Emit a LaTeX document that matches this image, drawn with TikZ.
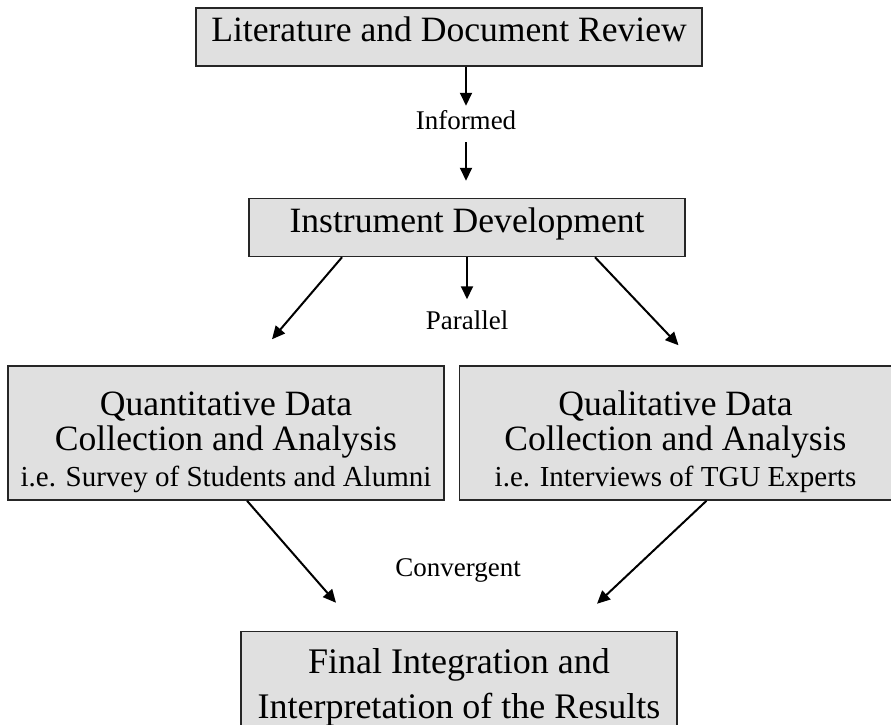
\documentclass[tikz,border=0pt]{standalone}
\usepackage{fontspec}
\setmainfont{Liberation Serif}
\usetikzlibrary{arrows.meta,positioning}

\begin{document}
\begin{tikzpicture}[
  x=1pt, y=-1pt,
  box/.style={draw=black!85, line width=1.5pt, fill=gray!24,
              inner sep=0pt, font=\fontsize{35.6pt}{40pt}\selectfont},
  onebox/.style={box, text height=25pt, text depth=15pt, minimum height=58pt},
  twobox/.style={box, align=center, minimum height=134pt},
  lbl/.style={inner sep=0pt, font=\fontsize{27pt}{32pt}\selectfont},
  arr/.style={-{Triangle[length=13pt,width=12pt]}, line width=2pt}
]
\useasboundingbox (0,0) rectangle (891,725);

\node[onebox, minimum width=506pt] (lit) at (449,37) {Literature and Document Review};
\node[onebox, minimum width=436pt, below=131pt of lit, xshift=18pt] (dev) {Instrument Development};
\node[twobox, minimum width=436pt, below=108pt of dev, xshift=-241pt] (quan)
  {\rule{0pt}{42pt}Quantitative Data\\[-5pt]Collection and Analysis\\[-4pt]
   {\fontsize{29pt}{34pt}\selectfont i.e. Survey of Students and Alumni}};
\node[twobox, minimum width=432pt, right=14pt of quan] (qual)
  {\rule{0pt}{42pt}Qualitative Data\\[-5pt]Collection and Analysis\\[-4pt]
   {\fontsize{29pt}{34pt}\selectfont i.e. Interviews of TGU Experts}};
\node[box, align=center, minimum width=436pt, inner ysep=17pt, below=130pt of quan,
      xshift=233pt, font=\fontsize{36pt}{45pt}\selectfont] (final)
  {Final Integration and\\Interpretation of the Results};

% link labels
\node[lbl, below=43.6pt of lit, xshift=17pt] (inf) {Informed};
\node[lbl, below=53.6pt of dev] (par) {Parallel};
\node[lbl, above=48pt of final, xshift=-1pt] (conv) {Convergent};

\draw[arr, shorten >=4.6pt] (lit.south -| inf) -- (inf.north);
\draw[arr, shorten <=12pt, shorten >=17pt] (inf.south) -- (dev.north -| inf);
\draw[arr, shorten >=11.6pt] (dev.south) -- (par.north);
\draw[arr] ([xshift=-125pt]dev.south) -- ([xshift=46pt,yshift=26pt]quan.north);
\draw[arr] ([xshift=128pt]dev.south) -- ([xshift=3pt,yshift=20pt]qual.north);
\draw[arr] ([xshift=21pt]quan.south) -- ([xshift=-123pt,yshift=28pt]final.north);
\draw[arr] ([xshift=31pt]qual.south) -- ([xshift=138pt,yshift=27pt]final.north);
\end{tikzpicture}
\end{document}
